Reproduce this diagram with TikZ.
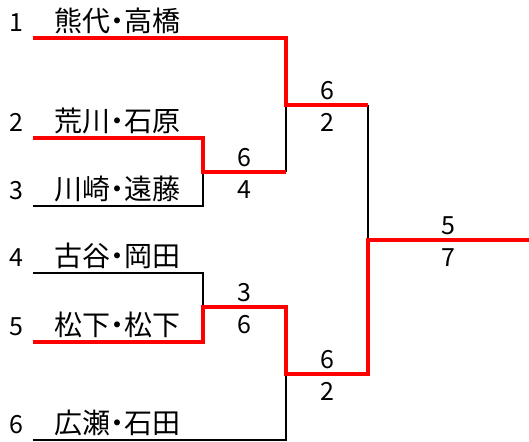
\documentclass[tikz,border=0pt]{standalone}
\usepackage{fontspec}
\setmainfont[RawFeature=+palt]{Noto Sans CJK JP}
\usetikzlibrary{positioning,calc}

\begin{document}
\begin{tikzpicture}[x=1pt,y=-1pt,
  lose/.style={draw=black,line width=2.5pt},
  win/.style={draw=red,line width=4.5pt},
  player/.style={inner sep=0pt,font=\fontsize{28}{28}\selectfont},
  seedno/.style={inner sep=0pt,font=\fontsize{25}{25}\selectfont},
  score/.style={inner sep=0pt,font=\fontsize{25}{25}\selectfont}]

  \useasboundingbox (0,0) rectangle (529,441);

  \coordinate (l1) at (33,38);
  \coordinate (l2) at (33,138);
  \coordinate (l3) at (33,206);
  \coordinate (l4) at (33,273);
  \coordinate (l5) at (33,342);
  \coordinate (l6) at (33,440);

  \coordinate (qa) at (203,172);
  \coordinate (qb) at (286,172);
  \coordinate (qc) at (203,307);
  \coordinate (qd) at (286,307);
  \coordinate (sa) at (286,105);
  \coordinate (sb) at (368,105);
  \coordinate (sc) at (286,374);
  \coordinate (sd) at (368,374);
  \coordinate (fa) at (368,240);
  \coordinate (fb) at (529,240);

  \node[player] (p1) [above right=4pt and 21pt of l1] {熊代・高橋};
  \node[player] (p2) [above right=4pt and 21pt of l2] {荒川・石原};
  \node[player] (p3) [above right=4pt and 21pt of l3] {川崎・遠藤};
  \node[player] (p4) [above right=4pt and 21pt of l4] {古谷・岡田};
  \node[player] (p5) [above right=4pt and 21pt of l5] {松下・松下};
  \node[player] (p6) [above right=4pt and 21pt of l6] {広瀬・石田};

  \node[seedno] (no1) [base left=30pt of p1] {1};
  \node[seedno] (no2) [base left=30pt of p2] {2};
  \node[seedno] (no3) [base left=30pt of p3] {3};
  \node[seedno] (no4) [base left=30pt of p4] {4};
  \node[seedno] (no5) [base left=30pt of p5] {5};
  \node[seedno] (no6) [base left=30pt of p6] {6};

  \draw[lose] (l3) -| (qa);
  \draw[lose] (l4) -| (qc);
  \draw[lose] (l6) -| (sc);
  \draw[lose] (qb) -- (sa);
  \draw[lose] (sb) -- (fa);

  \draw[win] (l1) -| (sa) -- (sb);
  \draw[win] (l2) -| (qa) -- (qb);
  \draw[win] (l5) -| (qc) -- (qd) -- (sc) -- (sd) -- (fa) -- (fb);

  \coordinate (mq1) at ($(qa)!.5!(qb)$);
  \coordinate (mq2) at ($(qc)!.5!(qd)$);
  \coordinate (ms1) at ($(sa)!.5!(sb)$);
  \coordinate (ms2) at ($(sc)!.5!(sd)$);
  \coordinate (mf) at ($(fa)!.5!(fb)$);

  \node[score] (r1) [above=5pt of mq1] {6};
  \node[score] (r2) [below=8pt of mq1] {4};
  \node[score] (r3) [above=5pt of mq2] {3};
  \node[score] (r4) [below=8pt of mq2] {6};
  \node[score] (r5) [above=5pt of ms1] {6};
  \node[score] (r6) [below=8pt of ms1] {2};
  \node[score] (r7) [above=5pt of ms2] {6};
  \node[score] (r8) [below=8pt of ms2] {2};
  \node[score] (r9) [above=5pt of mf] {5};
  \node[score] (r10) [below=8pt of mf] {7};

\end{tikzpicture}
\end{document}
